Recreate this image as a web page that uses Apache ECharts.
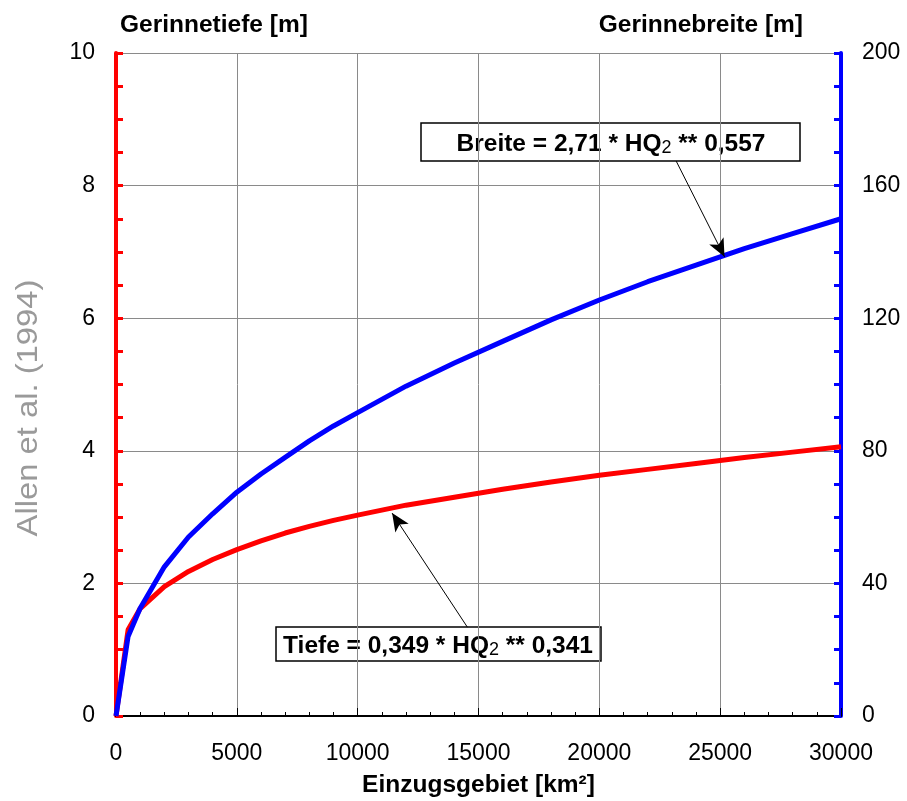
<!DOCTYPE html>
<html>
<head>
<meta charset="utf-8">
<script src="https://cdn.jsdelivr.net/npm/echarts@6/dist/echarts.min.js"></script>
<style>html,body{margin:0;padding:0;background:#fff}#c{width:907px;height:801px}</style>
</head>
<body>
<div id="c"></div>
<script>
var areas = [0,500,1000,2000,3000,4000,5000,6000,7000,8000,9000,10000,12000,14000,16000,18000,20000,22000,24000,26000,28000,30000];
var tiefe = [0,1.3,1.62,1.95,2.18,2.36,2.51,2.64,2.76,2.86,2.95,3.03,3.18,3.3,3.42,3.53,3.63,3.72,3.81,3.9,3.98,4.06];
var breite = [0,24,32.5,45,54,61,67.5,73,78,83,87.5,91.5,99.5,106.5,113,119.5,125.5,131,136,141,145.5,150];
var xTitle = 'Einzugsgebiet [km²]';
var leftTitle = 'Gerinnetiefe [m]';
var rightTitle = 'Gerinnebreite [m]';
var sideTitle = 'Allen et al. (1994)';
var breiteArrow = [[23180,167.4],[25180,138.5]];
var tiefeArrow = [[14540,1.34],[11425,3.06]];

var FONT = 'Liberation Sans, Arial, sans-serif';
function pairs(xs, ys){ return xs.map(function(x,i){return [x, ys[i]];}); }

var chart = echarts.init(document.getElementById('c'));
var labelStyle = {color:'#000', fontSize:23, fontFamily:FONT, formatter:function(v){return String(v);}};
var rich = {
  b:{fontSize:24.5, fontWeight:'bold', fontFamily:FONT, fill:'#000', verticalAlign:'bottom', lineHeight:28},
  s:{fontSize:18, fontWeight:'normal', fontFamily:FONT, fill:'#000', verticalAlign:'bottom', lineHeight:24}
};
chart.setOption({
  animation:false,
  backgroundColor:'#fff',
  grid:{left:116, right:66, top:53, bottom:85, containLabel:false, outerBoundsMode:'none'},
  xAxis:[{
    type:'value', min:0, max:30000, interval:5000,
    name:xTitle, nameLocation:'middle', nameGap:57,
    nameTextStyle:{color:'#000', fontSize:24.5, fontWeight:'bold', fontFamily:FONT},
    axisLine:{show:true, onZero:false, lineStyle:{color:'#000', width:2}},
    axisTick:{show:true, inside:true, length:8, lineStyle:{color:'#000', width:1}},
    minorTick:{show:true, splitNumber:5, length:4, lineStyle:{color:'#000', width:1}},
    axisLabel:Object.assign({margin:26}, labelStyle),
    splitLine:{show:true, lineStyle:{color:'#8a8a8a', width:1}}
  },{
    type:'value', min:0, max:30000, position:'top',
    axisLine:{show:true, lineStyle:{color:'#000', width:1.5}},
    axisTick:{show:false}, axisLabel:{show:false}, splitLine:{show:false}
  }],
  yAxis:[{
    type:'value', min:0, max:10, interval:2, position:'left',
    axisLine:{show:true, onZero:false, lineStyle:{color:'#ff0000', width:4}},
    axisTick:{show:true, inside:true, length:7, lineStyle:{color:'#ff0000', width:3}},
    minorTick:{show:true, splitNumber:4, length:7, lineStyle:{color:'#ff0000', width:3}},
    axisLabel:Object.assign({margin:21}, labelStyle),
    splitLine:{show:true, lineStyle:{color:'#8a8a8a', width:1}}
  },{
    type:'value', min:0, max:200, interval:40, position:'right',
    axisLine:{show:true, onZero:false, lineStyle:{color:'#0000ff', width:4}},
    axisTick:{show:true, inside:true, length:7, lineStyle:{color:'#0000ff', width:3}},
    minorTick:{show:true, splitNumber:4, length:7, lineStyle:{color:'#0000ff', width:3}},
    axisLabel:Object.assign({margin:21}, labelStyle),
    splitLine:{show:false}
  }],
  series:[{
    name:'Tiefe', type:'line', yAxisIndex:0, data:pairs(areas, tiefe),
    showSymbol:false, symbol:'none', lineStyle:{color:'#ff0000', width:5}, z:3,
    markLine:{silent:true, symbol:['none','arrow'], symbolSize:[12,18], label:{show:false},
      lineStyle:{color:'#000', width:1, type:'solid'},
      data:[[{coord:tiefeArrow[0]},{coord:tiefeArrow[1]}]]}
  },{
    name:'Breite', type:'line', yAxisIndex:1, data:pairs(areas, breite),
    showSymbol:false, symbol:'none', lineStyle:{color:'#0000ff', width:5}, z:4,
    markLine:{silent:true, symbol:['none','arrow'], symbolSize:[12,18], label:{show:false},
      lineStyle:{color:'#000', width:1, type:'solid'},
      data:[[{coord:breiteArrow[0]},{coord:breiteArrow[1]}]]}
  }],
  graphic:[
    {type:'text', left:120, top:13, style:{text:leftTitle, fill:'#000', font:'bold 24.5px '+FONT}},
    {type:'text', right:104, top:13, style:{text:rightTitle, fill:'#000', font:'bold 24.5px '+FONT}},
    {type:'text', x:29, y:408, rotation:Math.PI/2, scaleX:1.13, style:{text:sideTitle, fill:'#9a9a9a', font:'29px '+FONT, align:'center', verticalAlign:'middle'}},
    {type:'group', z:10, children:[
      {type:'rect', shape:{x:421, y:123, width:379, height:38}, style:{fill:'#fff', stroke:'#000', lineWidth:1.5}},
      {type:'text', x:611, y:143, style:{text:'{b|Breite = 2,71 * HQ}{s|2}{b| ** 0,557}', align:'center', verticalAlign:'middle', rich:rich}}
    ]},
    {type:'group', z:10, children:[
      {type:'rect', shape:{x:276, y:627, width:325, height:34}, style:{fill:'#fff', stroke:'#000', lineWidth:1.5}},
      {type:'text', x:438, y:645, style:{text:'{b|Tiefe = 0,349 * HQ}{s|2}{b| ** 0,341}', align:'center', verticalAlign:'middle', rich:rich}}
    ]}
  ]
});
</script>
</body>
</html>
